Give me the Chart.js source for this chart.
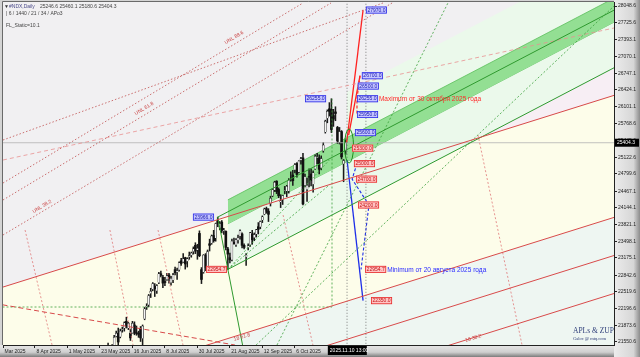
<!DOCTYPE html>
<html><head><meta charset="utf-8">
<script src="https://cdn.jsdelivr.net/npm/chart.js@4.4.1/dist/chart.umd.min.js"></script>
<style>html,body{margin:0;padding:0;background:#c4c4c4;overflow:hidden}canvas{display:block}</style>
</head><body>
<div style="width:640px;height:357px"><canvas id="c" width="640" height="357"></canvas></div>
<script>
// ---------------- DATA ----------------
const firstBarIndex = 34;            // bar index (weekdays since 8 Apr 2025)
const opens = [
21100,21380,21450,21320,21290,21480,21660,21720,21650,21790,
21820,21950,21820,21720,21730,21880,21730,21720,21800,21620,
22000,22230,22270,22490,22570,22630,22540,22700,22870,22800,
22720,22760,22850,22700,22750,22950,22900,22950,23120,23100,
23180,23110,23200,23230,23300,23420,23330,23650,22950,22900,
23230,23020,23450,23460,23610,23560,23900,23760,23870,23700,
23690,23350,23180,23140,23480,23430,23520,23600,23640,23420,
23200,23380,23430,23640,23570,23640,23780,23780,23910,24020,
24130,24080,24230,24380,24490,24660,24500,24260,24300,24480,
24470,24470,24760,24780,24880,25000,24840,25070,25110,24580,
24500,24750,24800,24600,24900,25120,25110,24920,25250,25610,
25880,26060,26050,25930,26000,25700,25420,25620,25000,25246.6];
const highs = [
21380,21420,21530,21390,21500,21680,21760,21820,21800,21840,
21940,22030,21930,21800,21950,21940,21860,21760,21850,21880,
22220,22290,22470,22590,22700,22680,22660,22900,22920,22840,
22800,22880,22880,22820,22880,23000,22980,23100,23170,23260,
23190,23180,23290,23290,23390,23470,23440,23700,22990,23240,
23260,23330,23540,23620,23710,23850,23966,23880,23900,23750,
23700,23380,23270,23540,23560,23550,23620,23720,23660,23450,
23260,23450,23670,23710,23660,23730,23860,23890,23990,24140,
24160,24130,24370,24520,24660,24670,24530,24400,24390,24560,
24580,24710,24840,24870,25000,25020,25060,25120,25200,24800,
24720,24900,24900,24860,25170,25200,25170,25150,25410,25840,
26040,26180,26255,26050,26100,25720,25700,25640,25080,25460.1];
const lows = [
21090,21250,21180,21120,21200,21440,21650,21480,21630,21740,
21760,21820,21790,21580,21720,21690,21680,21640,21560,21480,
21980,22180,22230,22410,22540,22430,22490,22680,22810,22600,
22640,22740,22690,22650,22700,22850,22760,22920,23030,23090,
22960,23000,23150,23190,23250,23260,23150,23200,22680,22880,
22930,22980,23310,23440,23480,23500,23780,23720,23660,23630,
23330,22954.7,23080,23120,23440,23400,23460,23540,23370,23350,
23030,23330,23400,23440,23510,23580,23640,23740,23860,24010,
24040,23880,24180,24360,24460,24420,24340,24150,24210,24420,
24360,24430,24660,24580,24820,24740,24820,24990,24200,24550,
24270,24550,24570,24450,24890,25000,24800,24880,25220,25590,
25790,25920,25600,25720,25830,25390,25380,25090,24650,25180.6];
const closes = [
21363,21275,21340,21340,21490,21640,21720,21550,21760,21800,
21920,21860,21910,21630,21910,21720,21720,21700,21630,21860,
22190,22240,22450,22530,22680,22580,22640,22870,22840,22690,
22700,22830,22780,22780,22850,22890,22930,23080,23070,23160,
23060,23160,23220,23270,23350,23310,23360,23220,22760,23230,
22990,23300,23420,23600,23510,23840,23850,23840,23710,23710,
23380,23250,23140,23500,23450,23530,23570,23700,23420,23380,
23230,23410,23660,23530,23630,23720,23730,23880,23970,24120,
24080,24020,24330,24500,24640,24460,24380,24280,24380,24490,
24560,24680,24760,24670,24980,24790,25050,25100,24220,24750,
24580,24740,24670,24820,25140,25130,24890,25100,25360,25820,
26010,26010,25660,25860,25970,25440,25620,25130,25060,25404.3];

const xTickIndex  = [-15.7, 0, 16, 32, 48, 64, 80, 96, 112, 128];
const xTickLabels = ['Mar 2025','8 Apr 2025','1 May 2025','23 May 2025','16 Jun 2025','8 Jul 2025','30 Jul 2025','21 Aug 2025','12 Sep 2025','6 Oct 2025'];
const yTickValues = [28048.6,27725.6,27393.1,27070.1,26747.1,26424.1,26101.1,25768.6,25445.6,25122.6,24799.6,24467.1,24144.1,23821.1,23498.1,23175.1,22842.6,22519.6,22196.6,21873.6,21550.6];
const currentPrice = 25404.3;
const currentTime = '2025.11.10 13:00';
const cursorBar = 153.6;
const header = ['#NDX,Daily','25246.6 25460.1 25180.6 25404.3'];

// drawn objects: [barIndex, price] pairs
const upperRed      = [[-16,22610],[286,26330]];
const lowerRed      = [[-16,20250],[286,23970]];
const channelUpper  = [[95,24068.5],[153.7,25271.9],[153.7,26386],[286,29098]];
const channelTop    = [[90,23966],[286,27984]];
const channelBottom = [[95,22954.7],[286,26870]];
const bandTop       = [[95,24300],[286,28216]];
const bandBottom    = [[95,23836],[286,27752]];
const lines = [
  {kind:'red',    pts:upperRed},
  {kind:'red',    pts:lowerRed},
  {kind:'red',    pts:[[-16,19513],[286,23233]]},
  {kind:'red',    pts:[[-16,18778],[286,22498]]},
  {kind:'redDash',pts:[[-16,22270],[98.5,21492]]},
  {kind:'green',  pts:channelTop},
  {kind:'green',  pts:channelBottom},
  {kind:'green',  pts:[[90,23966],[102.3,21480]]},
  {kind:'greenDot',pts:[[-16,22227],[146.3,22227],[146.3,26255]]},
  {kind:'greenDot',pts:[[119.2,21492],[203.4,28107]]},
  {kind:'greenDot',pts:[[108.9,21492],[285.2,28048]]},
  {kind:'greenDot',pts:[[95,22954.7],[145,25070]]},
  {kind:'greenDot',pts:[[95,22954.7],[145,24587]]},
  {kind:'unl',    pts:[[-15.76,23620],[175.9,28107]]},
  {kind:'unl',    pts:[[-15.76,24297],[145.8,28107]]},
  {kind:'unl',    pts:[[-15.76,24625],[132,28107]]},
  {kind:'unl',    pts:[[-15.76,25457],[171.4,28107]]},
  {kind:'pink',   pts:[[-15.76,25070],[285.2,27623]]},
  {kind:'time',   pts:[[-4.9,23716],[8.4,21492]]},
  {kind:'time',   pts:[[36.9,23716],[48.3,21492]]},
  {kind:'time',   pts:[[60.6,23716],[72.9,21492]]},
  {kind:'time',   pts:[[122.2,24006],[136.9,21492]]},
  {kind:'time',   pts:[[218.2,25554],[239.9,21492]]},
  {kind:'vert',   pts:[[153.7,21400],[153.7,28200]]},
  {kind:'vert',   pts:[[163,21400],[163,28200]]},
  {kind:'price',  pts:[[-16,25404.3],[286,25404.3]]},
  {kind:'up',     pts:[[153.5,25404.3],[161.6,27970]]},
  {kind:'up',     pts:[[154.5,25550],[160.1,26700],[159.1,26500]]},
  {kind:'upDash', pts:[[160.1,26700],[158.6,26255],[158.6,25950]]},
  {kind:'dn',     pts:[[153.7,25070],[161.6,22350]]},
  {kind:'dnDash', pts:[[158.6,25000],[156.2,24700],[164.5,24200],[160.6,22954.7]]}
];
const ellipses = [{bar:154.7, price:25341, rBars:2.2, rPrice:330}];
const priceTags = [
  {bar:77.8, price:23966.0, c:'b'}, {bar:84.2, price:22954.7, c:'r'}, {bar:133, price:26255.0, c:'b'},
  {bar:163, price:27970.0, c:'b'}, {bar:161, price:26700.0, c:'b'}, {bar:159, price:26500.0, c:'b'},
  {bar:158.6, price:26255.0, c:'b'}, {bar:158.6, price:25950.0, c:'b'}, {bar:157.6, price:25600.0, c:'b'},
  {bar:156.2, price:25300.0, c:'r'}, {bar:157.1, price:25000.0, c:'r'}, {bar:158.1, price:24700.0, c:'r'},
  {bar:159.1, price:24200.0, c:'r'}, {bar:162.6, price:22954.7, c:'r'}, {bar:165.5, price:22350.0, c:'r'}
];
const notes = [
  {bar:169.4, price:26255.0, text:'Maximum от 30 октября 2025 года', c:'#ff2a2a'},
  {bar:173.5, price:22954.7, text:'Minimum от 20 августа 2025 года', c:'#2a2aff'}
];
const fibTexts = [
  {bar:93.6, price:27333, text:'UNL 88.6', rot:-0.54},
  {bar:49.3, price:25960, text:'UNL 61.8', rot:-0.54},
  {bar:-1, price:24065, text:'UNL 38.2', rot:-0.54},
  {bar:98, price:21600, text:'18 61.8', rot:-0.3},
  {bar:212, price:21580, text:'18 38.2', rot:-0.3}
];

// ---------------- STYLES ----------------
const styles = {
  red:{c:'#d84a4a',w:1,d:[]}, redDash:{c:'#d84a4a',w:1,d:[5,3]},
  green:{c:'#2f9a2f',w:1,d:[]}, greenDot:{c:'#3aa03a',w:0.8,d:[2,2]},
  unl:{c:'#c05050',w:0.8,d:[1.5,2]}, pink:{c:'#e89090',w:0.8,d:[4,3]}, time:{c:'#e07878',w:0.8,d:[2,2]},
  vert:{c:'#606060',w:0.8,d:[1,2]}, price:{c:'#b4b4b4',w:0.8,d:[]},
  up:{c:'#ff2020',w:1.3,d:[]}, upDash:{c:'#ff2020',w:1.1,d:[3,2]},
  dn:{c:'#1e2ee8',w:1.3,d:[]}, dnDash:{c:'#1e2ee8',w:1.1,d:[3,2]}
};
const fillColors = {gray:'#f1f0f2', mint:'#eef6f2', wedge:'#f7eef4', chan:'#ebf9eb', band:'#93df93'};

// ---------------- BUILD ----------------
const xy = p => p.map(([x,y]) => ({x, y}));
const bull = [], bear = [], wicks = [];
closes.forEach((c, k) => {
  const x = firstBarIndex + k, o = opens[k];
  wicks.push({x, y:[lows[k], highs[k]]});
  (c >= o ? bull : bear).push({x, y:[Math.min(o,c), Math.max(o,c)]});
});
const area = (pts, fill, color, order) => ({type:'line', data:xy(pts), borderWidth:0, pointRadius:0, fill, backgroundColor:color, order});
const datasets = [
  area(upperRed, 'end', fillColors.gray, 22),            // 0
  area(lowerRed, 'start', fillColors.mint, 22),          // 1
  area(channelBottom, {target:0}, fillColors.wedge, 21), // 2
  area(channelUpper, '+1', fillColors.chan, 20),         // 3
  area(channelBottom, false, 'transparent', 20),         // 4
];
datasets.push({type:'line', data:xy(bandTop), borderColor:'#5cbf5c', borderWidth:0.8, pointRadius:0, fill:'+1', backgroundColor:fillColors.band, order:18});
datasets.push({type:'line', data:xy(bandBottom), borderColor:'#5cbf5c', borderWidth:0.8, pointRadius:0, fill:false, order:18});
datasets.push({type:'bar', data:wicks, backgroundColor:'#1a1a1a', barThickness:0.9, grouped:false, order:10});
datasets.push({type:'bar', data:bull, backgroundColor:'#f4f4f4', borderColor:'#111', borderWidth:0.5, barThickness:2, grouped:false, order:9});
datasets.push({type:'bar', data:bear, backgroundColor:'#111', barThickness:2, grouped:false, order:9});
lines.forEach(l => { const s = styles[l.kind];
  datasets.push({type:'line', data:xy(l.pts), borderColor:s.c, borderWidth:s.w, borderDash:s.d, pointRadius:0, fill:false, tension:0, order:2});
});

const FONT = '"Liberation Sans", Arial, sans-serif';
const bgPlugin = {
  id:'bg',
  beforeDraw(chart){
    const {ctx, chartArea:a, width, height} = chart;
    ctx.save();
    ctx.fillStyle = '#d4d4d4'; ctx.fillRect(0,0,width,height);
    let g = ctx.createLinearGradient(a.right,0,width,0);
    g.addColorStop(0,'#ececec'); g.addColorStop(0.75,'#d6d6d6'); g.addColorStop(1,'#8c8c8c');
    ctx.fillStyle = g; ctx.fillRect(a.right,0,width-a.right,height);
    g = ctx.createLinearGradient(0,a.bottom,0,height);
    g.addColorStop(0,'#e8e8e8'); g.addColorStop(0.6,'#cfcfcf'); g.addColorStop(1,'#7c7c7c');
    ctx.fillStyle = g; ctx.fillRect(0,a.bottom,a.right,height-a.bottom);
    ctx.fillStyle = '#fdfdea'; ctx.fillRect(a.left,a.top,a.right-a.left,a.bottom-a.top);
    ctx.restore();
  }
};
const overlayPlugin = {
  id:'overlay',
  afterDraw(chart){
    const {ctx, chartArea:a, scales:{x, y}} = chart;
    ctx.save();
    ctx.beginPath(); ctx.rect(a.left,a.top,a.right-a.left,a.bottom-a.top); ctx.clip();
    ellipses.forEach(e => {
      const cx = x.getPixelForValue(e.bar), cy = y.getPixelForValue(e.price);
      const rx = Math.abs(x.getPixelForValue(e.bar + e.rBars) - cx), ry = Math.abs(y.getPixelForValue(e.price + e.rPrice) - cy);
      ctx.beginPath(); ctx.ellipse(cx, cy, rx, ry, 0, 0, Math.PI*2);
      ctx.strokeStyle = '#1f8f1f'; ctx.lineWidth = 1; ctx.stroke();
    });
    fibTexts.forEach(t => {
      ctx.save(); ctx.translate(x.getPixelForValue(t.bar), y.getPixelForValue(t.price)); ctx.rotate(t.rot);
      ctx.font = '5px ' + FONT; ctx.fillStyle = '#c83c3c'; ctx.textBaseline='middle'; ctx.fillText(t.text,0,0); ctx.restore();
    });
    priceTags.forEach(t => {
      const px = x.getPixelForValue(t.bar), py = y.getPixelForValue(t.price);
      const txt = t.price.toFixed(1);
      ctx.font = '5px ' + FONT;
      const w = ctx.measureText(txt).width + 3, h = 7;
      ctx.fillStyle = t.c==='b' ? '#c6c6ff' : '#ffc4c4';
      ctx.fillRect(px, py-h/2, w, h);
      ctx.strokeStyle = t.c==='b' ? '#2a2ae6' : '#e62a2a'; ctx.lineWidth = 0.8;
      ctx.strokeRect(px+0.4, py-h/2+0.4, w-0.8, h-0.8);
      ctx.fillStyle = t.c==='b' ? '#1818b0' : '#c41212';
      ctx.textBaseline = 'middle'; ctx.fillText(txt, px+1.5, py+0.3);
    });
    notes.forEach(n => {
      ctx.font = '6.5px ' + FONT; ctx.fillStyle = n.c; ctx.textBaseline='middle';
      ctx.fillText(n.text, x.getPixelForValue(n.bar), y.getPixelForValue(n.price)+0.5);
    });
    ctx.textBaseline='middle'; ctx.font = '5px ' + FONT;
    ctx.fillStyle='#333'; ctx.fillText('\u25BC', 4, 7);
    ctx.fillStyle='#4a4a8a'; ctx.fillText(header[0], 9, 7);
    ctx.fillStyle='#444'; ctx.fillText(header[1], 40, 7);
    ctx.fillText('| 6 / 1440 / 21 / 34 / APo3', 6, 14);
    ctx.fillText('FL_Static=10.1', 6, 26);
    ctx.font = '7.5px "Liberation Serif", serif'; ctx.fillStyle = '#2c3c78';
    ctx.fillText('APLs & ZUP', 573, 331);
    ctx.font = '4.5px "Liberation Serif", serif'; ctx.fillText('Galoc @ mtq.com', 573, 338.5);
    ctx.restore();
    ctx.save();
    const cy = y.getPixelForValue(currentPrice);
    ctx.fillStyle = '#000'; ctx.fillRect(a.right+1, cy-4, 24, 8);
    ctx.fillStyle = '#fff'; ctx.font = '5px ' + FONT; ctx.textBaseline='middle';
    ctx.fillText(currentPrice.toFixed(1), a.right+3, cy+0.3);
    const tx = x.getPixelForValue(cursorBar);
    ctx.fillStyle = '#000'; ctx.fillRect(tx-19, a.bottom+1, 39, 9);
    ctx.fillStyle = '#fff'; ctx.fillText(currentTime, tx-17, a.bottom+5.5);
    ctx.strokeStyle = '#6a6a6a'; ctx.lineWidth = 1;
    ctx.beginPath(); ctx.moveTo(a.left-0.5, a.bottom); ctx.lineTo(a.left-0.5, a.top-0.5); ctx.lineTo(a.right, a.top-0.5); ctx.stroke();
    ctx.restore();
  }
};

new Chart(document.getElementById('c'), {
  type:'bar',
  data:{datasets},
  plugins:[bgPlugin, overlayPlugin],
  options:{
    responsive:false, animation:false, devicePixelRatio:1,
    layout:{padding:{left:3, top:2, right:0, bottom:0}},
    plugins:{legend:{display:false}, tooltip:{enabled:false}},
    scales:{
      x:{type:'linear', min:-15.76, max:285.2, offset:false,
        afterBuildTicks: s => { s.ticks = xTickIndex.map(v => ({value:v})); },
        afterFit: s => { s.height = 12; s.paddingLeft = 0; s.paddingRight = 0; },
        ticks:{callback:(v,k) => ' ' + xTickLabels[k], align:'start', font:{size:5, family:FONT}, color:'#222', padding:1, autoSkip:false, maxRotation:0, minRotation:0},
        grid:{drawOnChartArea:false, tickLength:3, color:'#222', offset:false},
        border:{display:true, color:'#222'}
      },
      y:{type:'linear', position:'right', min:21492.34, max:28125.96,
        afterBuildTicks: s => { s.ticks = yTickValues.map(v => ({value:v})); },
        afterFit: s => { s.width = 26; s.paddingTop = 0; s.paddingBottom = 0; },
        ticks:{callback:v => Number(v).toFixed(1), font:{size:5, family:FONT}, color:'#222', padding:1, crossAlign:'near', autoSkip:false},
        grid:{drawOnChartArea:false, tickLength:3, color:'#222'},
        border:{display:true, color:'#222'}
      }
    }
  }
});
</script>
</body></html>
